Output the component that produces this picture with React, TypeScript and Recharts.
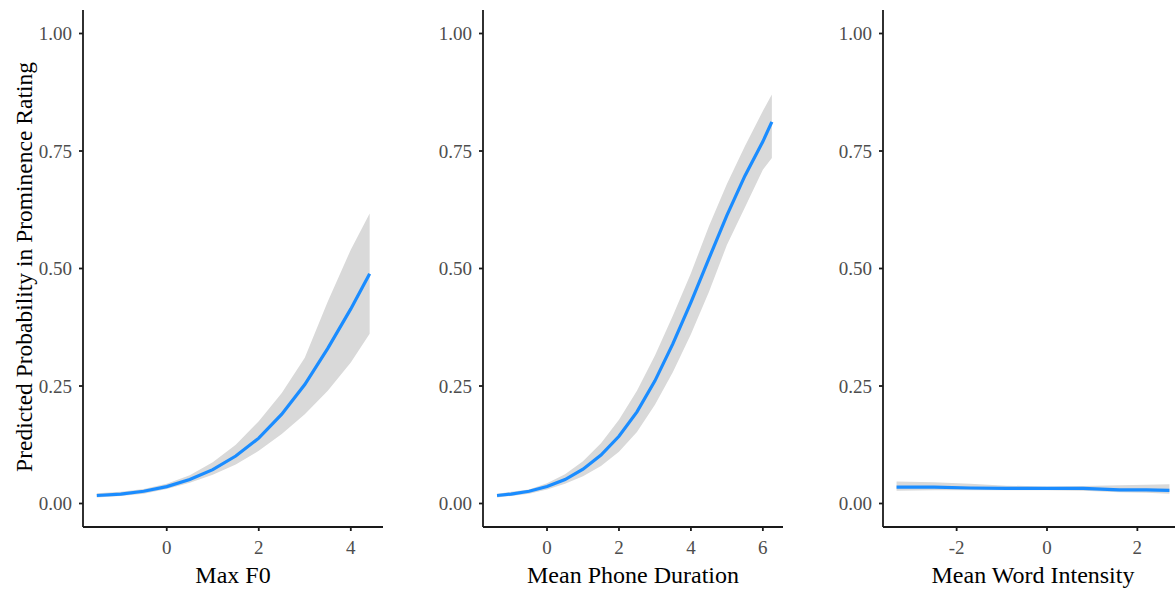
// Predicted probability of prominence rating across three acoustic predictors.
import { ComposedChart, Area, Line, XAxis, YAxis } from "recharts";

const FONT = "'Times New Roman', 'Liberation Serif', serif";
const BLUE = "#1a8cff";
const BAND = "#d9d9d9";
const AXIS = "#1a1a1a";
const TICK = "#4d4d4d";

const yTicks = [0, 0.25, 0.5, 0.75, 1];
const yTitle = "Predicted Probability in Prominence Rating";

// Max F0
const f0X = [-1.52, -1, -0.5, 0, 0.5, 1, 1.5, 2, 2.5, 3, 3.5, 4, 4.41];
const f0Fit = [0.017, 0.02, 0.026, 0.036, 0.051, 0.072, 0.101, 0.139, 0.19, 0.253, 0.33, 0.414, 0.489];
const f0Lo = [0.013, 0.016, 0.021, 0.031, 0.044, 0.061, 0.083, 0.112, 0.148, 0.19, 0.24, 0.3, 0.361];
const f0Hi = [0.022, 0.025, 0.031, 0.042, 0.06, 0.088, 0.125, 0.175, 0.235, 0.31, 0.43, 0.54, 0.617];
const f0Ticks = [0, 2, 4];

// Mean Phone Duration
const durX = [-1.39, -1, -0.5, 0, 0.5, 1, 1.5, 2, 2.5, 3, 3.5, 4, 4.5, 5, 5.5, 6, 6.25];
const durFit = [0.017, 0.02, 0.026, 0.036, 0.051, 0.073, 0.103, 0.143, 0.195, 0.261, 0.34, 0.428, 0.521, 0.613, 0.697, 0.77, 0.812];
const durLo = [0.013, 0.016, 0.021, 0.03, 0.042, 0.058, 0.08, 0.11, 0.152, 0.21, 0.28, 0.36, 0.45, 0.55, 0.63, 0.71, 0.735];
const durHi = [0.021, 0.025, 0.03, 0.043, 0.062, 0.09, 0.128, 0.178, 0.24, 0.315, 0.4, 0.49, 0.59, 0.68, 0.76, 0.835, 0.87];
const durTicks = [0, 2, 4, 6];

// Mean Word Intensity
const intX = [-3.33, -2.5, -1.7, -0.9, 0, 0.8, 1.6, 2.2, 2.71];
const intFit = [0.035, 0.035, 0.033, 0.032, 0.032, 0.032, 0.029, 0.029, 0.028];
const intLo = [0.027, 0.028, 0.028, 0.028, 0.028, 0.027, 0.024, 0.023, 0.021];
const intHi = [0.047, 0.045, 0.042, 0.038, 0.036, 0.037, 0.039, 0.04, 0.041];
const intTicks = [-2, 0, 2];

function rows(x: number[], fit: number[], lo: number[], hi: number[]) {
  return x.map((v, i) => ({ x: v, fit: fit[i], band: [lo[i], hi[i]] }));
}

interface PanelProps {
  left: number;
  title: string;
  data: { x: number; fit: number; band: number[] }[];
  domain: [number, number];
  ticks: number[];
}

function Panel({ left, title, data, domain, ticks }: PanelProps) {
  const tickStyle = { fill: TICK, fontSize: 19, fontFamily: FONT };
  return (
    <div style={{ position: "absolute", left, top: 0 }}>
      <ComposedChart width={400} height={592} data={data} margin={{ top: 10, right: 17, bottom: 0, left: 0 }}>
        <XAxis
          dataKey="x"
          type="number"
          domain={domain}
          ticks={ticks}
          allowDataOverflow
          height={65}
          stroke={AXIS}
          strokeWidth={1.8}
          tickSize={4}
          tickMargin={10}
          tick={tickStyle}
          label={{ value: title, position: "insideBottom", offset: 9, fill: "#000", fontSize: 24, fontFamily: FONT }}
        />
        <YAxis
          type="number"
          domain={[-0.05, 1.05]}
          ticks={yTicks}
          allowDataOverflow
          width={83}
          stroke={AXIS}
          strokeWidth={1.8}
          tickSize={4}
          tickMargin={7}
          tick={tickStyle}
          tickFormatter={(v: number) => v.toFixed(2)}
        />
        <Area dataKey="band" type="linear" fill={BAND} fillOpacity={1} stroke="none" isAnimationActive={false} />
        <Line dataKey="fit" type="linear" stroke={BLUE} strokeWidth={3.2} dot={false} isAnimationActive={false} />
      </ComposedChart>
    </div>
  );
}

export default function App() {
  return (
    <div style={{ position: "absolute", left: 0, top: 0, width: 1175, height: 592, overflow: "hidden", background: "#fff" }}>
      <Panel left={0} title="Max F0" data={rows(f0X, f0Fit, f0Lo, f0Hi)} domain={[-1.82, 4.7]} ticks={f0Ticks} />
      <Panel left={400} title="Mean Phone Duration" data={rows(durX, durFit, durLo, durHi)} domain={[-1.78, 6.56]} ticks={durTicks} />
      <Panel left={800} title="Mean Word Intensity" data={rows(intX, intFit, intLo, intHi)} domain={[-3.63, 3.01]} ticks={intTicks} />
      <svg width={60} height={592} style={{ position: "absolute", left: 0, top: 0 }}>
        <text x={32} y={267} transform="rotate(-90 32 267)" textAnchor="middle" fontSize={23.5} fontFamily={FONT} fill="#000">
          {yTitle}
        </text>
      </svg>
    </div>
  );
}
